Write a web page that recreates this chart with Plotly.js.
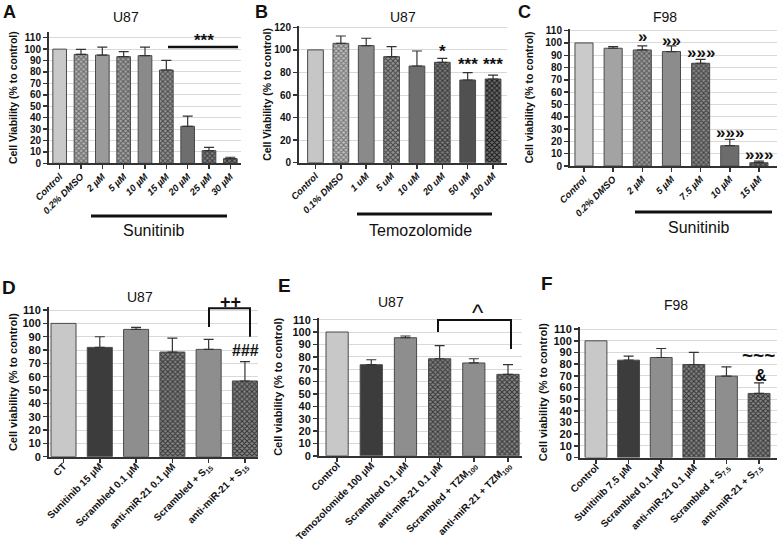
<!DOCTYPE html>
<html><head><meta charset="utf-8">
<script src="https://cdn.plot.ly/plotly-3.0.1.min.js"></script>
<style>html,body{margin:0;padding:0;background:#fff}#chart{width:777px;height:545px}</style>
</head><body><div id="chart"></div>
<script>
// ---------- DATA ----------
const catsA = ['Control','0.2% DMSO','2 µM','5 µM','10 µM','15 µM','20 µM','25 µM','30 µM'];
const valsA = [100,95.4,94.8,93.4,94.3,81.7,32.4,11.1,4.1];
const errA  = [0,4.4,7,4.4,7.5,8.5,9,2.9,1.2];

const catsB = ['Control','0.1% DMSO','1 uM','5 uM','10 uM','20 uM','50 uM','100 uM'];
const valsB = [100,105.8,103.8,94,85.7,89,73.3,74.2];
const errB  = [0,6.5,6.5,8.9,13.3,3.5,6.5,3.5];

const catsC = ['Control','0.2% DMSO','2 µM','5 µM','7.5 µM','10 µM','15 µM'];
const valsC = [100,95.7,94.3,93,83.5,16.5,2.7];
const errC  = [0,1.3,3.3,4.6,3.2,5.2,1.3];

const catsD = ['CT','Sunitinib 15 µM','Scrambled 0.1 µM','anti-miR-21 0.1 µM','Scrambled + S<sub>15</sub>','anti-miR-21 + S<sub>15</sub>'];
const valsD = [100,82,95.5,78.5,80.5,56.8];
const errD  = [0,8,1.5,10.5,7.5,14.5];

const catsE = ['Control','Temozolomide 100 µM','Scrambled 0.1 µM','anti-miR-21 0.1 µM','Scrambled + TZM<sub>100</sub>','anti-miR-21 + TZM<sub>100</sub>'];
const valsE = [100,73.6,95.4,78.4,75,65.8];
const errE  = [0,4,1.4,10.6,3.4,7.8];

const catsF = ['Control','Sunitinib 7.5 µM','Scrambled 0.1 µM','anti-miR-21 0.1 µM','Scrambled + S<sub>7.5</sub>','anti-miR-21 + S<sub>7.5</sub>'];
const valsF = [100,83.4,85.7,79.7,69.7,54.9];
const errF  = [0,3.5,7.7,10.3,8,9.1];

// ---------- STYLES (average grey of each bar; hatch = checkered) ----------
const fillA = [0xc9,0x8e,0x9a,0x80,0x8a,0x70,0x6e,0x5e,0x58];
const hatchA = [0,1,0,1,0,1,0,1,1];
const fillB = [0xc6,0x99,0x8a,0x6e,0x6e,0x5a,0x50,0x44];
const hatchB = [0,1,0,1,0,1,0,1];
const fillC = [0xca,0xa3,0x7a,0x8c,0x66,0x6c,0x55];
const hatchC = [0,0,1,0,1,0,1];
const fillDEF = [0xc8,0x3c,0x8e,0x5e,0x8e,0x5e];
const hatchDEF = [0,0,0,1,0,1];

const W = 777, H = 545;
const PX = x => x / W;
const PY = y => 1 - y / H;
const FONT = 'Liberation Sans, Arial, Helvetica, sans-serif';

function grey(v) {
  v = Math.max(0, Math.min(255, Math.round(v)));
  const h = v.toString(16).padStart(2, '0');
  return '#' + h + h + h;
}

// one trace per bar (so every checkered bar gets its own pattern)
function barTraces(cats, vals, errs, fills, hatch, xa, ya, width) {
  return cats.map((c, i) => {
    const m = {color: hatch[i] ? grey(fills[i] + 38) : grey(fills[i]),
               line: {color: '#4a4a4a', width: 1}};
    if (hatch[i]) {
      m.pattern = {shape: 'x', fillmode: 'overlay', fgcolor: grey(fills[i] - 40),
                   fgopacity: 1, size: 3.5, solidity: 0.5};
    }
    return {
      type: 'bar', x: [c], y: [vals[i]], xaxis: xa, yaxis: ya, width: width,
      marker: m,
      error_y: {type: 'data', array: [errs[i]], arrayminus: [0], symmetric: false,
                color: '#333', thickness: 1.2, width: 5, visible: errs[i] > 0},
      showlegend: false, hoverinfo: 'skip'
    };
  });
}

const data = [].concat(
  barTraces(catsA, valsA, errA, fillA, hatchA, 'x', 'y', 0.64),
  barTraces(catsB, valsB, errB, fillB, hatchB, 'x2', 'y2', 0.62),
  barTraces(catsC, valsC, errC, fillC, hatchC, 'x3', 'y3', 0.62),
  barTraces(catsD, valsD, errD, fillDEF, hatchDEF, 'x4', 'y4', 0.69),
  barTraces(catsE, valsE, errE, fillDEF, hatchDEF, 'x5', 'y5', 0.65),
  barTraces(catsF, valsF, errF, fillDEF, hatchDEF, 'x6', 'y6', 0.67)
);

function xAxis(x0, x1, range, anchor, cats, italic, size, standoff) {
  return {
    domain: [PX(x0), PX(x1)], anchor: anchor, type: 'category', range: range,
    categoryorder: 'array', categoryarray: cats,
    showline: true, linecolor: '#333', linewidth: 2, ticks: 'outside', ticklen: 4,
    tickwidth: 1.5, tickcolor: '#333', showgrid: false, zeroline: false,
    tickangle: -45, automargin: false, ticklabelstandoff: standoff,
    tickfont: {family: FONT, size: size, color: '#111', weight: 'bold', style: italic ? 'italic' : 'normal'}
  };
}
function yAxis(top, bot, range, anchor, dtick, title, tsize, fsize, standoff) {
  return {
    domain: [PY(bot), PY(top)], anchor: anchor, range: range, dtick: dtick, tick0: 0,
    showline: true, linecolor: '#333', linewidth: 2, ticks: 'outside', ticklen: 4,
    tickwidth: 1.5, tickcolor: '#333', showgrid: true, gridcolor: '#d9d9d9', gridwidth: 1,
    zeroline: false, automargin: false,
    tickfont: {family: FONT, size: fsize, color: '#111', weight: 'bold'},
    title: {text: title, font: {family: FONT, size: tsize, color: '#111', weight: 'bold'}, standoff: standoff}
  };
}

const ttlV = 'Cell Viability (% to control)';
const ttlv = 'Cell viability (% to control)';

function ann(text, x, y, size, bold) {
  return {
    text: text, x: PX(x), y: PY(y), xref: 'paper', yref: 'paper',
    xanchor: 'center', yanchor: 'middle', showarrow: false,
    font: {family: FONT, size: size, color: '#111', weight: bold ? 'bold' : 'normal'}
  };
}
function hline(x0, x1, y, w) {
  return {type: 'line', xref: 'paper', yref: 'paper', x0: PX(x0), x1: PX(x1), y0: PY(y), y1: PY(y),
          line: {color: '#111', width: w}};
}
function bracket(xl, yl, yt, xr, yr) {
  return {type: 'path', xref: 'paper', yref: 'paper',
          path: `M ${PX(xl)} ${PY(yl)} L ${PX(xl)} ${PY(yt)} L ${PX(xr)} ${PY(yt)} L ${PX(xr)} ${PY(yr)}`,
          line: {color: '#111', width: 2}};
}

const layout = {
  width: W, height: H, margin: {l: 0, r: 0, t: 0, b: 0},
  paper_bgcolor: '#fff', plot_bgcolor: '#fff', showlegend: false,
  barmode: 'overlay',
  font: {family: FONT},
  xaxis:  xAxis(49, 241, [-0.5, 8.5], 'y', catsA, true, 9.5, -2),
  yaxis:  yAxis(32, 163.3, [0, 115], 'x', 10, ttlV, 10.5, 10, 5),
  xaxis2: xAxis(299, 507, [-0.65, 7.55], 'y2', catsB, true, 9.5, -2),
  yaxis2: yAxis(26.2, 162.7, [0, 121], 'x2', 20, ttlV, 10.5, 10, 1),
  xaxis3: xAxis(570, 777, [-0.48, 6.62], 'y3', catsC, true, 9.5, -2),
  yaxis3: yAxis(28.8, 166, [0, 111.5], 'x3', 10, ttlv, 10.5, 10, 10),
  xaxis4: xAxis(49, 258, [-0.4, 5.36], 'y4', catsD, false, 10, -6),
  yaxis4: yAxis(307.4, 456.7, [0, 112], 'x4', 10, ttlv, 11, 11, 3),
  xaxis5: xAxis(319, 522, [-0.53, 5.41], 'y5', catsE, false, 10, -6),
  yaxis5: yAxis(317.8, 455.8, [0, 111.5], 'x5', 10, ttlv, 11, 11, 8),
  xaxis6: xAxis(580, 777, [-0.49, 5.55], 'y6', catsF, false, 10, -6),
  yaxis6: yAxis(326.8, 457.5, [0, 112], 'x6', 10, ttlv, 11, 11, 4),
  shapes: [
    hline(168, 238, 47, 2.5),
    hline(91, 227, 216, 3),
    hline(357, 492, 214, 3),
    hline(635, 772, 212, 3),
    bracket(209, 327, 308.3, 250, 336.7),
    bracket(438, 332, 320, 511, 349)
  ],
  annotations: [
    ann('A', 9, 12, 18, true), ann('B', 261, 12, 18, true), ann('C', 524, 12, 18, true),
    ann('D', 9, 287, 19, true), ann('E', 284, 285, 19, true), ann('F', 547, 283, 19, true),
    ann('U87', 126, 17, 14, false), ann('U87', 403, 17, 14, false), ann('F98', 665, 17, 14, false),
    ann('U87', 140, 297, 14, false), ann('U87', 391, 302, 14, false), ann('F98', 676, 305, 14, false),
    ann('***', 204, 40, 17, true),
    ann('*', 442.5, 51, 17, true), ann('***', 467.8, 65, 17, true), ann('***', 493.1, 65, 17, true),
    ann('»', 642.3, 37, 17, true), ann('»»', 671.5, 40.7, 17, true), ann('»»»', 700.7, 52.7, 17, true),
    ann('»»»', 729.9, 133, 17, true), ann('»»»', 759, 154, 17, true),
    ann('Sunitinib', 153, 230, 16, false), ann('Temozolomide', 420, 230, 16, false),
    ann('Sunitinib', 698, 227, 16, false),
    ann('++', 230, 302, 18, true), ann('###', 246, 350, 16, true),
    ann('^', 478, 312, 24, false),
    ann('~~~', 758, 355, 19, true), ann('&', 761, 375, 16, true)
  ]
};

Plotly.newPlot('chart', data, layout, {staticPlot: true, displayModeBar: false});
</script>
</body></html>
